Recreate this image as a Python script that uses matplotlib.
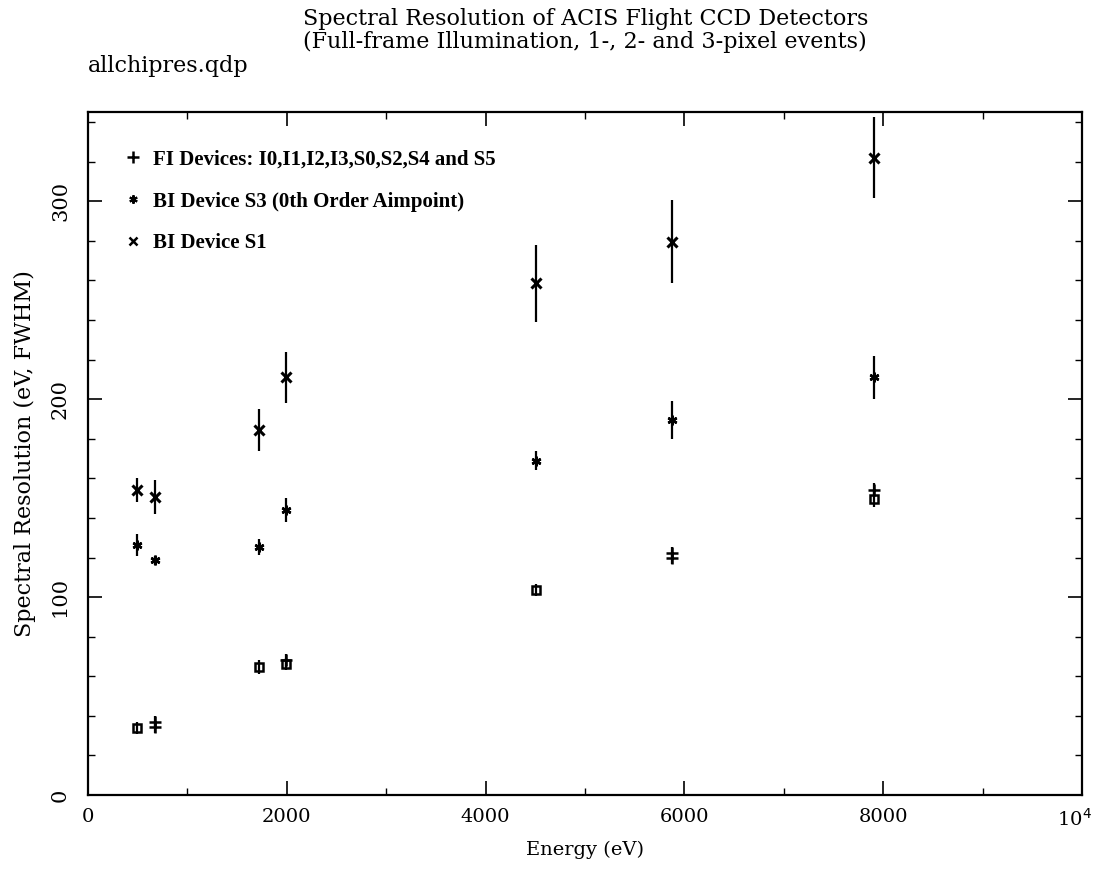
import matplotlib
matplotlib.use("Agg")
import matplotlib.pyplot as plt
import matplotlib.transforms as mtransforms
from matplotlib.lines import Line2D
from matplotlib.ticker import MultipleLocator

# line energies (eV)
energy = [490, 670, 1720, 1990, 4510, 5880, 7910]

# BI device S1
s1_res = [154, 150.5, 184.5, 211, 258.5, 279.5, 322]
s1_err = [6, 8.5, 10.5, 13, 19.5, 21, 20.5]

# BI device S3 (aimpoint)
s3_res = [126.5, 118.5, 125.5, 144, 169, 189.5, 211]
s3_err = [5.5, 2.5, 4, 6, 5, 9.5, 11]

# FI devices (several chips overlap at some energies)
fi_energy = [670, 670, 1990, 5880, 5880, 7910]
fi_res = [37, 34.5, 68, 122.5, 119.5, 154]
fi_err = [3, 3, 3.5, 3, 3, 3.5]
fi_box_energy = [490, 1720, 1990, 4510, 7910]
fi_box_res = [34, 64.5, 66, 103.5, 149.5]
fi_box_err = [3, 3.5, 3, 3, 4]

plt.rcParams['font.family'] = ['DejaVu Serif']

fig = plt.figure(figsize=(10.94, 8.90), dpi=100)
ax = fig.add_axes([0.0804, 0.1067, 0.9086, 0.7673])

ax.errorbar(energy, s1_res, yerr=s1_err, fmt='none', ecolor='black', elinewidth=1.6)
ax.plot(energy, s1_res, 'x', color='black', ms=7, mew=2.2, ls='none')
ax.errorbar(energy, s3_res, yerr=s3_err, fmt='none', ecolor='black', elinewidth=1.6)
ax.plot(energy, s3_res, marker=(6, 2, 0), color='black', ms=7, mew=1.8, ls='none')
ax.errorbar(fi_energy, fi_res, yerr=fi_err, fmt='none', ecolor='black', elinewidth=1.6)
ax.plot(fi_energy, fi_res, '+', color='black', ms=9, mew=1.8, ls='none')
ax.errorbar(fi_box_energy, fi_box_res, yerr=fi_box_err, fmt='none', ecolor='black', elinewidth=1.6)
ax.plot(fi_box_energy, fi_box_res, 's', mfc='none', mec='black', ms=6, mew=1.8, ls='none')

ax.set_xlim(0, 10000)
ax.set_ylim(0, 345)
ax.xaxis.set_minor_locator(MultipleLocator(1000))
ax.yaxis.set_major_locator(MultipleLocator(100))
ax.yaxis.set_minor_locator(MultipleLocator(20))
ax.tick_params(which='both', direction='in', top=True, right=True, labelsize=14)
ax.tick_params(which='major', length=10, width=1.2)
ax.tick_params(which='minor', length=5, width=1.0)
ax.tick_params(axis='x', pad=9)
ax.tick_params(axis='y', pad=13, labelsize=15)
ax.set_xticks([0, 2000, 4000, 6000, 8000, 10000])
ax.set_xticklabels(['0', '2000', '4000', '6000', '8000', '10$^4$'])
last = ax.get_xticklabels()[-1]
last.set_ha('right')
last.set_transform(last.get_transform() +
                   mtransforms.ScaledTranslation(10 / 100, 0, fig.dpi_scale_trans))
for lab in ax.get_yticklabels():
    lab.set_rotation(90)
    lab.set_va('center')
for sp in ax.spines.values():
    sp.set_linewidth(1.6)

ax.set_xlabel('Energy (eV)', fontsize=14, labelpad=8)
ax.set_ylabel('Spectral Resolution (eV, FWHM)', fontsize=16, labelpad=11)

fig.text(0.535, 0.979, 'Spectral Resolution of ACIS Flight CCD Detectors',
         ha='center', va='center', fontsize=16)
fig.text(0.535, 0.953, '(Full-frame Illumination, 1-, 2- and 3-pixel events)',
         ha='center', va='center', fontsize=16)
fig.text(0.0804, 0.926, 'allchipres.qdp', ha='left', va='center', fontsize=16)

handles = [
    Line2D([], [], marker='+', color='black', ms=9, mew=1.8, ls='none'),
    Line2D([], [], marker=(6, 2, 0), color='black', ms=6, mew=1.5, ls='none'),
    Line2D([], [], marker='x', color='black', ms=6, mew=1.8, ls='none'),
]
labels = ['FI Devices: I0,I1,I2,I3,S0,S2,S4 and S5',
          'BI Device S3 (0th Order Aimpoint)',
          'BI Device S1']
ax.legend(handles, labels, loc='upper left', frameon=False, handlelength=0.7,
          handletextpad=0.6, labelspacing=1.05, borderaxespad=1.4,
          prop={'family': 'Liberation Serif', 'weight': 'bold', 'size': 15})

fig.savefig('out.png', dpi=100)
